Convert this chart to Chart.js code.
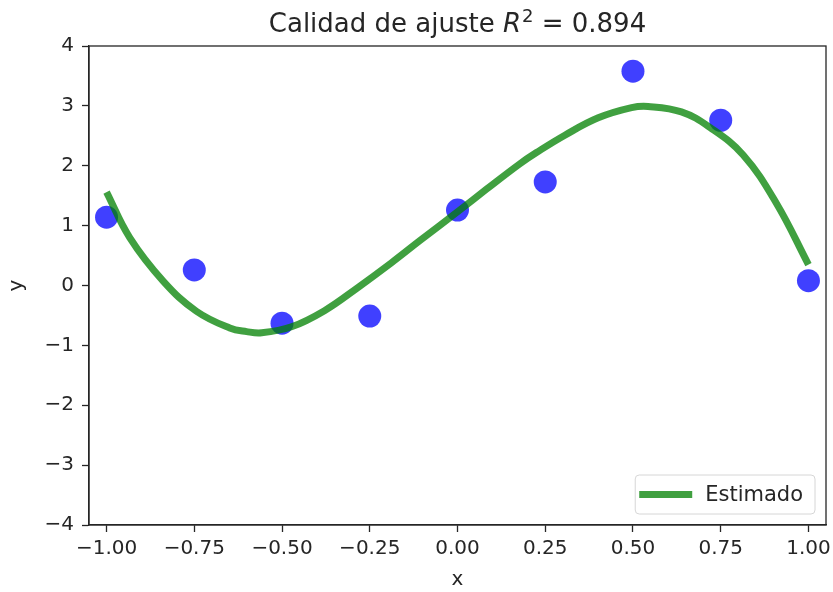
<!DOCTYPE html>
<html>
<head>
<meta charset="utf-8">
<script src="https://cdn.jsdelivr.net/npm/chart.js@4.4.1/dist/chart.umd.min.js"></script>
<style>
  html, body { margin: 0; padding: 0; background: #fff; }
  #wrap { width: 833px; height: 592px; }
</style>
</head>
<body>
<div id="wrap"><canvas id="c" width="833" height="592"></canvas></div>
<script>
// ---- data ----
const titleParts = ["Calidad de ajuste ", "R", "2", " = 0.894"];
const xLabel = "x";
const yLabel = "y";
const legendLabel = "Estimado";

const obsX = [-1.00, -0.75, -0.50, -0.25, 0.00, 0.25, 0.50, 0.75, 1.00];
const obsY = [1.14, 0.26, -0.63, -0.51, 1.26, 1.73, 3.58, 2.76, 0.08];

const fitX = [-1.0, -0.934, -0.838, -0.744, -0.649, -0.601, -0.558, -0.473, -0.379, -0.283, -0.188, -0.107, 0.002, 0.083, 0.177, 0.225, 0.306, 0.401, 0.496, 0.543, 0.638, 0.719, 0.814, 0.909, 1.0];
const fitY = [1.56, 0.80, 0.07, -0.43, -0.71, -0.77, -0.79, -0.69, -0.42, -0.03, 0.38, 0.75, 1.24, 1.61, 2.03, 2.22, 2.51, 2.80, 2.97, 2.99, 2.90, 2.64, 2.18, 1.37, 0.35];

const xTicks = [-1.00, -0.75, -0.50, -0.25, 0.00, 0.25, 0.50, 0.75, 1.00];
const yTicks = [-4, -3, -2, -1, 0, 1, 2, 3, 4];

// ---- styles ----
const FONT = "'DejaVu Sans', sans-serif";
const TXT = '#262626';
const fmtMinus = s => s.replace('-', '\u2212');

const titlePlugin = {
  id: 'mathTitle',
  afterDraw(chart) {
    const ca = chart.chartArea, ctx = chart.ctx;
    const size = 26;
    ctx.save();
    ctx.fillStyle = TXT;
    ctx.textBaseline = 'alphabetic';
    ctx.textAlign = 'left';
    const fNormal = size + "px " + FONT;
    const fItalic = "italic " + size + "px " + FONT;
    const fSup = Math.round(size * 0.7) + "px " + FONT;
    const fonts = [fNormal, fItalic, fSup, fNormal];
    const widths = titleParts.map((t, i) => { ctx.font = fonts[i]; return ctx.measureText(t).width; });
    const total = widths.reduce((a, b) => a + b, 0) + 1;
    let x = (ca.left + ca.right) / 2 - total / 2;
    const base = 32;
    titleParts.forEach((t, i) => {
      ctx.font = fonts[i];
      const y = i === 2 ? base - size * 0.38 : base;
      ctx.fillText(t, x, y);
      x += widths[i] + (i === 1 ? 1 : 0);
    });
    ctx.restore();
  }
};

const framePlugin = {
  id: 'frame',
  afterDatasetsDraw(chart) {
    const ca = chart.chartArea, ctx = chart.ctx;
    ctx.save();
    ctx.strokeStyle = '#262626';
    ctx.lineWidth = 1.3;
    ctx.strokeRect(ca.left, ca.top, ca.right - ca.left, ca.bottom - ca.top);
    ctx.restore();
  }
};

const legendPlugin = {
  id: 'innerLegend',
  afterDraw(chart) {
    const ca = chart.chartArea, ctx = chart.ctx;
    ctx.save();
    ctx.font = "21px " + FONT;
    const tw = ctx.measureText(legendLabel).width;
    const lineLen = 53, padL = 4, gap = 13, padR = 12;
    const w = padL + lineLen + gap + tw + padR;
    const h = 39;
    const right = ca.right - 11, bottom = ca.bottom - 11;
    const left = right - w, top = bottom - h;
    ctx.beginPath();
    if (ctx.roundRect) ctx.roundRect(left, top, w, h, 4); else ctx.rect(left, top, w, h);
    ctx.fillStyle = 'rgba(255,255,255,0.8)';
    ctx.fill();
    ctx.strokeStyle = '#d6d6d6';
    ctx.lineWidth = 1;
    ctx.stroke();
    const cy = top + h / 2;
    ctx.beginPath();
    ctx.moveTo(left + padL, cy);
    ctx.lineTo(left + padL + lineLen, cy);
    ctx.strokeStyle = 'rgba(0,128,0,0.75)';
    ctx.lineWidth = 7;
    ctx.stroke();
    ctx.fillStyle = TXT;
    ctx.textBaseline = 'middle';
    ctx.textAlign = 'left';
    ctx.fillText(legendLabel, left + padL + lineLen + gap, cy + 1);
    ctx.restore();
  }
};

new Chart(document.getElementById('c'), {
  type: 'scatter',
  data: {
    datasets: [
      {
        label: legendLabel,
        type: 'line',
        data: fitX.map((x, i) => ({ x: x, y: fitY[i] })),
        borderColor: 'rgba(0,128,0,0.75)',
        borderWidth: 7,
        pointRadius: 0,
        fill: false,
        tension: 0.4,
        borderCapStyle: 'butt',
        order: 0
      },
      {
        label: 'Datos',
        data: obsX.map((x, i) => ({ x: x, y: obsY[i] })),
        backgroundColor: 'rgba(0,0,255,0.75)',
        borderWidth: 0,
        pointRadius: 11.5,
        pointHoverRadius: 11.5,
        order: 1
      }
    ]
  },
  options: {
    responsive: false,
    animation: false,
    events: [],
    layout: { autoPadding: false, padding: { left: 0, right: 7, top: 46, bottom: 0 } },
    plugins: {
      legend: { display: false },
      tooltip: { enabled: false },
      title: { display: false }
    },
    scales: {
      x: {
        type: 'linear',
        min: -1.05,
        max: 1.05,
        afterBuildTicks(scale) { scale.ticks = xTicks.map(v => ({ value: v })); },
        afterFit(scale) { scale.height = 67; scale.paddingLeft = 0; scale.paddingRight = 0; },
        ticks: {
          color: TXT,
          font: { family: FONT, size: 20 },
          padding: 5,
          maxRotation: 0,
          autoSkip: false,
          callback: v => fmtMinus(Number(v).toFixed(2))
        },
        grid: { display: true, drawOnChartArea: false, drawTicks: true, tickLength: 7, tickWidth: 1.3, tickColor: '#262626', color: '#262626' },
        border: { display: true, color: '#262626', width: 1.3 },
        title: { display: true, text: xLabel, color: TXT, font: { family: FONT, size: 20 }, padding: { top: 0, bottom: 0 } }
      },
      y: {
        type: 'linear',
        min: -4,
        max: 4,
        afterBuildTicks(scale) { scale.ticks = yTicks.map(v => ({ value: v })); },
        afterFit(scale) { scale.width = 89; scale.paddingTop = 0; scale.paddingBottom = 0; },
        ticks: {
          color: TXT,
          font: { family: FONT, size: 20 },
          padding: 8,
          callback: v => fmtMinus(String(v))
        },
        grid: { display: true, drawOnChartArea: false, drawTicks: true, tickLength: 7, tickWidth: 1.3, tickColor: '#262626', color: '#262626' },
        border: { display: true, color: '#262626', width: 1.3 },
        title: { display: true, text: yLabel, color: TXT, font: { family: FONT, size: 20 }, padding: { top: 5, bottom: 0 } }
      }
    }
  },
  plugins: [framePlugin, legendPlugin, titlePlugin]
});
</script>
</body>
</html>
